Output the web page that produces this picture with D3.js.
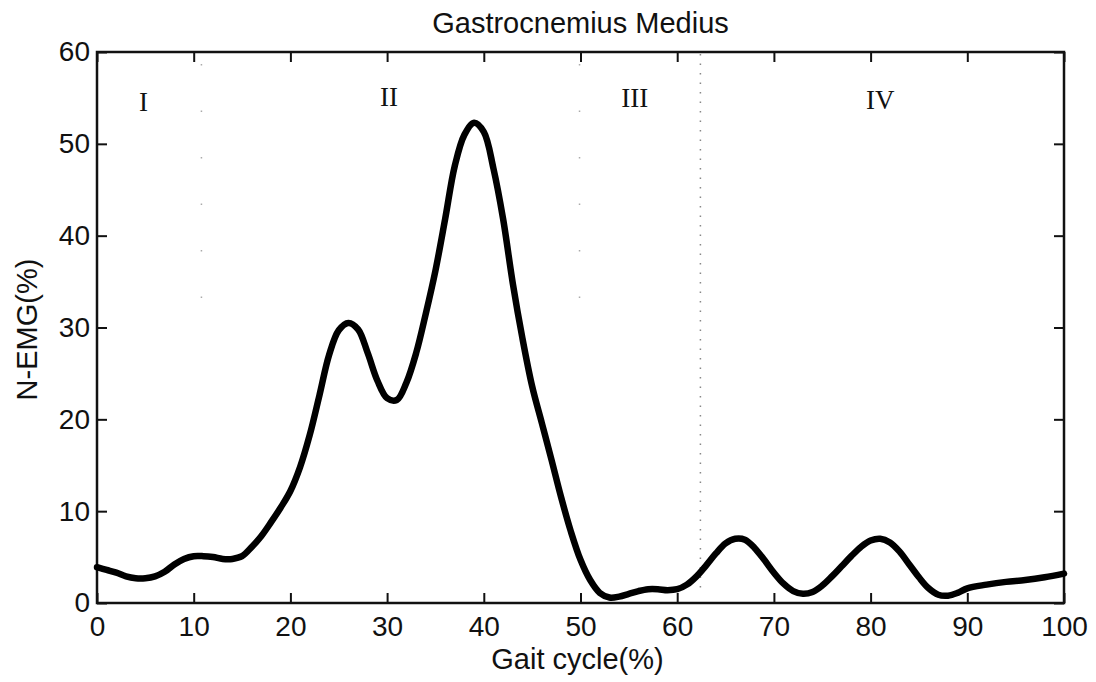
<!DOCTYPE html>
<html>
<head>
<meta charset="utf-8">
<script src="https://cdnjs.cloudflare.com/ajax/libs/d3/7.8.5/d3.min.js"></script>
<style>
    html, body { margin: 0; padding: 0; background: #fff; }
    svg { display: block; }
    .tick-label { font-family: "Liberation Sans", Arial, sans-serif; font-size: 28px; fill: #111; }
    .title, .axis-title { font-family: "Liberation Sans", Arial, sans-serif; font-size: 29px; fill: #111; }
    .phase { font-family: "Liberation Serif", "Times New Roman", serif; font-size: 27px; fill: #111; }
</style>
</head>
<body>
<svg id="chart"></svg>
<script>
var gaitCycle = [0, 1, 2, 3, 4, 5, 6, 7, 8, 9, 10, 11, 12, 13, 14, 15, 16, 17, 18, 19,
    20, 21, 22, 23, 24, 25, 26, 27, 28, 29, 30, 31, 32, 33, 34, 35, 36, 37, 38, 39,
    40, 41, 42, 43, 44, 45, 46, 47, 48, 49, 50, 51, 52, 53, 54, 55, 56, 57, 58, 59,
    60, 61, 62, 63, 64, 65, 66, 67, 68, 69, 70, 71, 72, 73, 74, 75, 76, 77, 78, 79,
    80, 81, 82, 83, 84, 85, 86, 87, 88, 89, 90, 92, 94, 96, 98, 100];

var emg = [3.9, 3.6, 3.3, 2.9, 2.7, 2.7, 2.9, 3.4, 4.2, 4.8, 5.1, 5.1, 5.0, 4.8, 4.8, 5.1, 6.1, 7.3, 8.8, 10.4,
    12.2, 14.8, 18.3, 22.6, 27.0, 29.7, 30.5, 29.8, 27.2, 24.2, 22.3, 22.1, 24.0, 27.2, 31.5, 36.2, 41.8, 47.6, 51.0, 52.3,
    51.3, 47.3, 41.8, 34.8, 28.8, 23.6, 19.6, 15.6, 11.5, 7.8, 4.7, 2.5, 1.1, 0.6, 0.7, 1.0, 1.3, 1.5, 1.5, 1.4,
    1.5, 2.0, 2.9, 4.1, 5.4, 6.5, 7.0, 6.9, 6.0, 4.7, 3.3, 2.1, 1.3, 1.0, 1.2, 1.9, 2.9, 4.0, 5.1, 6.1,
    6.8, 7.0, 6.6, 5.6, 4.2, 2.8, 1.6, 0.9, 0.8, 1.1, 1.6, 2.0, 2.3, 2.5, 2.8, 3.2];

var xTicks = [0, 10, 20, 30, 40, 50, 60, 70, 80, 90, 100];
var yTicks = [0, 10, 20, 30, 40, 50, 60];

var phaseNames = ['I', 'II', 'III', 'IV'];
var phaseLabelX = [4.8, 30.2, 55.6, 81.0];
var phaseLabelY = [54.6, 55.1, 55.0, 54.8];

var faintBoundaries = [10.8, 49.9];
var stanceSwingBoundary = [62.4];

(function () {
    var W = 1096, H = 682,
        margin = {top: 52, right: 32, bottom: 79, left: 97},
        width = W - margin.left - margin.right,
        height = H - margin.top - margin.bottom;

    var svg = d3.select('#chart').attr('width', W).attr('height', H);
    var g = svg.append('g').attr('transform', 'translate(' + margin.left + ',' + margin.top + ')');

    var x = d3.scaleLinear().domain([0, 100]).range([0, width]);
    var y = d3.scaleLinear().domain([0, 60]).range([height, 0]);

    function drawAxis(axis, tx, ty, showLabels) {
        var a = g.append('g').attr('transform', 'translate(' + tx + ',' + ty + ')').call(axis);
        a.select('.domain').remove();
        a.selectAll('.tick line').attr('stroke', '#111').attr('stroke-width', 2);
        if (showLabels) {
            a.selectAll('.tick text').attr('class', 'tick-label').attr('fill', null);
        } else {
            a.selectAll('.tick text').remove();
        }
        a.attr('font-size', null).attr('font-family', null);
        return a;
    }

    // inward ticks on all four sides, like the matlab box
    drawAxis(d3.axisBottom(x).tickValues(xTicks).tickSize(-10).tickPadding(13), 0, height, true);
    drawAxis(d3.axisTop(x).tickValues(xTicks).tickSize(-10), 0, 0, false);
    drawAxis(d3.axisLeft(y).tickValues(yTicks).tickSize(-10).tickPadding(7), 0, 0, true);
    drawAxis(d3.axisRight(y).tickValues(yTicks).tickSize(-10), width, 0, false);

    g.append('rect')
        .attr('width', width).attr('height', height)
        .attr('fill', 'none').attr('stroke', '#111').attr('stroke-width', 2.5);

    // phase boundaries
    g.selectAll('.faint').data(faintBoundaries).enter().append('line')
        .attr('x1', function (d) { return x(d); }).attr('x2', function (d) { return x(d); })
        .attr('y1', 12).attr('y2', y(30))
        .attr('stroke', '#aaa').attr('stroke-width', 1.5)
        .attr('stroke-dasharray', '1.5 45');

    g.selectAll('.boundary').data(stanceSwingBoundary).enter().append('line')
        .attr('x1', function (d) { return x(d); }).attr('x2', function (d) { return x(d); })
        .attr('y1', 2).attr('y2', height - 10)
        .attr('stroke', '#888').attr('stroke-width', 1.5)
        .attr('stroke-dasharray', '1.5 8');

    g.selectAll('.phase').data(phaseNames).enter().append('text')
        .attr('class', 'phase')
        .attr('x', function (d, i) { return x(phaseLabelX[i]); })
        .attr('y', function (d, i) { return y(phaseLabelY[i]); })
        .attr('text-anchor', 'middle')
        .attr('dominant-baseline', 'central')
        .text(function (d) { return d; });

    var line = d3.line()
        .x(function (d, i) { return x(gaitCycle[i]); })
        .y(function (d) { return y(d); })
        .curve(d3.curveCatmullRom.alpha(0.5));

    g.append('path')
        .datum(emg)
        .attr('d', line)
        .attr('fill', 'none')
        .attr('stroke', '#000')
        .attr('stroke-width', 6.5)
        .attr('stroke-linejoin', 'round')
        .attr('stroke-linecap', 'round');

    svg.append('text').attr('class', 'title')
        .attr('x', margin.left + width / 2).attr('y', 33)
        .attr('text-anchor', 'middle')
        .text('Gastrocnemius Medius');

    svg.append('text').attr('class', 'axis-title')
        .attr('x', margin.left + width / 2 - 3).attr('y', 669)
        .attr('text-anchor', 'middle')
        .text('Gait cycle(%)');

    svg.append('text').attr('class', 'axis-title')
        .attr('transform', 'translate(37,' + (margin.top + height / 2 + 2) + ') rotate(-90)')
        .attr('text-anchor', 'middle')
        .text('N-EMG(%)');
})();
</script>
</body>
</html>
